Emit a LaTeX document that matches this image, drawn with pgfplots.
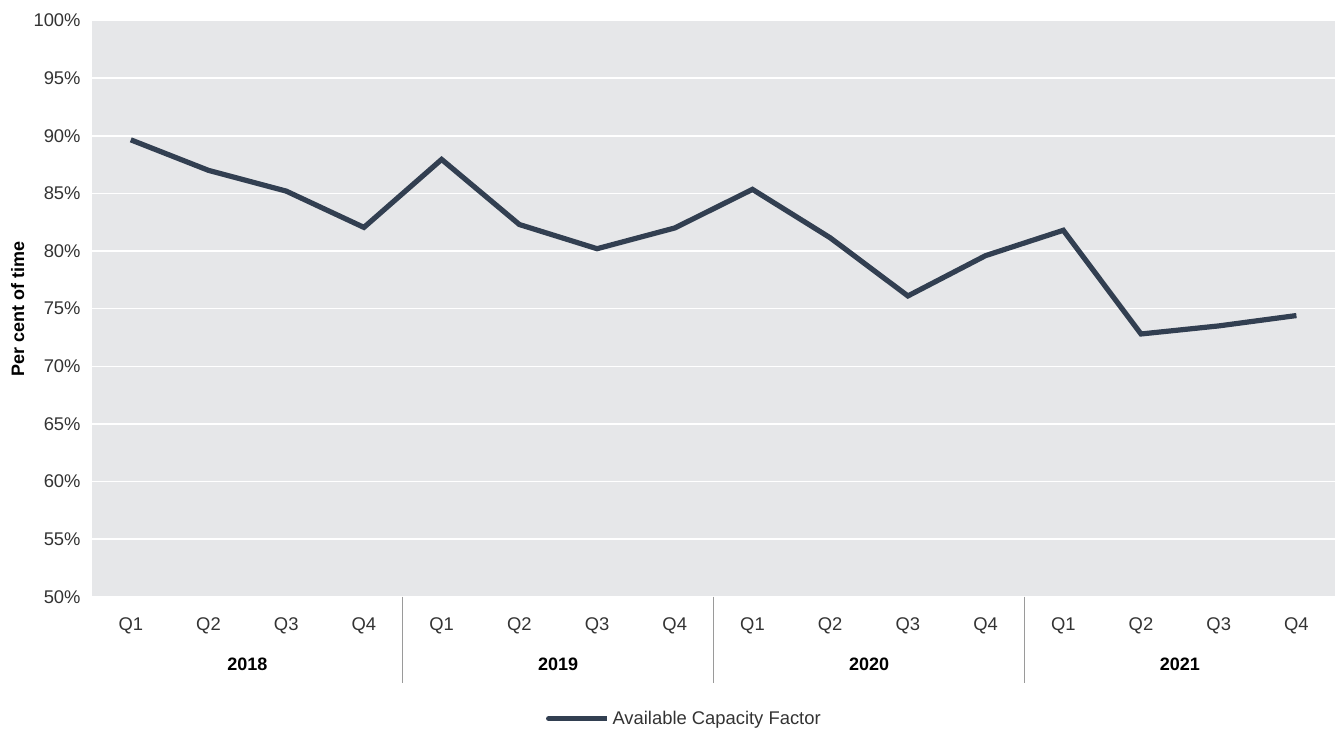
\documentclass[border=0pt]{standalone}
\usepackage{pgfplots}
\pgfplotsset{compat=1.18}
\usepackage{fontspec}
\setmainfont{Liberation Sans}
\definecolor{bg}{HTML}{E6E7E9}
\definecolor{ln}{HTML}{323F51}
\definecolor{tk}{HTML}{333333}
\definecolor{sep}{HTML}{9A9A9A}
\begin{document}
\begin{tikzpicture}
\begin{axis}[
  scale only axis,
  width=933pt, height=432.3pt,
  xmin=-0.5, xmax=15.5, ymin=50, ymax=100,
  axis background/.style={fill=bg},
  axis line style={draw=none},
  ytick={50,55,...,100},
  yticklabel={\pgfmathprintnumber{\tick}\%},
  /pgf/number format/assume math mode=true,
  yticklabel style={font=\fontsize{13.8}{16}\selectfont, text=tk, xshift=-5pt},
  xtick={0,...,15},
  xticklabels={Q1,Q2,Q3,Q4,Q1,Q2,Q3,Q4,Q1,Q2,Q3,Q4,Q1,Q2,Q3,Q4},
  xticklabel style={font=\fontsize{13.8}{16}\selectfont, text=tk, yshift=-12pt},
  major tick length=0pt,
  ymajorgrids,
  grid style={white, line width=1.1pt},
  ylabel={\bfseries Per cent of time},
  ylabel style={font=\fontsize{13.5}{16}\selectfont, yshift=0pt},
  clip=false,
  legend style={at={(0.365,-0.2117)}, anchor=west, draw=none, fill=none,
    font=\fontsize{13.8}{16}\selectfont, text=tk, inner sep=0pt,
    nodes={inner sep=2pt}},
  legend image code/.code={\draw[#1, line cap=round] (0pt,0pt) -- (38pt,0pt);
    \path (0pt,0pt) -- (44pt,0pt);},
]
\addplot[ln, line width=3.9pt, line join=miter] coordinates {
 (0,89.65) (1,87.0) (2,85.2) (3,82.05)
 (4,87.95) (5,82.3) (6,80.2) (7,82.0)
 (8,85.35) (9,81.15) (10,76.1) (11,79.6)
 (12,81.8) (13,72.8) (14,73.5) (15,74.4)
};
\addlegendentry{Available Capacity Factor}
\pgfplotsinvokeforeach{3.5,7.5,11.5}{
  \draw[sep, line width=0.7pt] (axis cs:#1,50) -- ([yshift=-64.5pt]axis cs:#1,50);
}
\node[font=\fontsize{13.5}{16}\selectfont\bfseries] at ([yshift=-51pt]axis cs:1.5,50) {2018};
\node[font=\fontsize{13.5}{16}\selectfont\bfseries] at ([yshift=-51pt]axis cs:5.5,50) {2019};
\node[font=\fontsize{13.5}{16}\selectfont\bfseries] at ([yshift=-51pt]axis cs:9.5,50) {2020};
\node[font=\fontsize{13.5}{16}\selectfont\bfseries] at ([yshift=-51pt]axis cs:13.5,50) {2021};
\coordinate (bbsw) at ([xshift=-69pt,yshift=-99pt]rel axis cs:0,0);
\coordinate (bbne) at ([yshift=15.45pt]rel axis cs:1,1);
\end{axis}
\path (bbsw) rectangle (bbne);
\end{tikzpicture}
\end{document}
